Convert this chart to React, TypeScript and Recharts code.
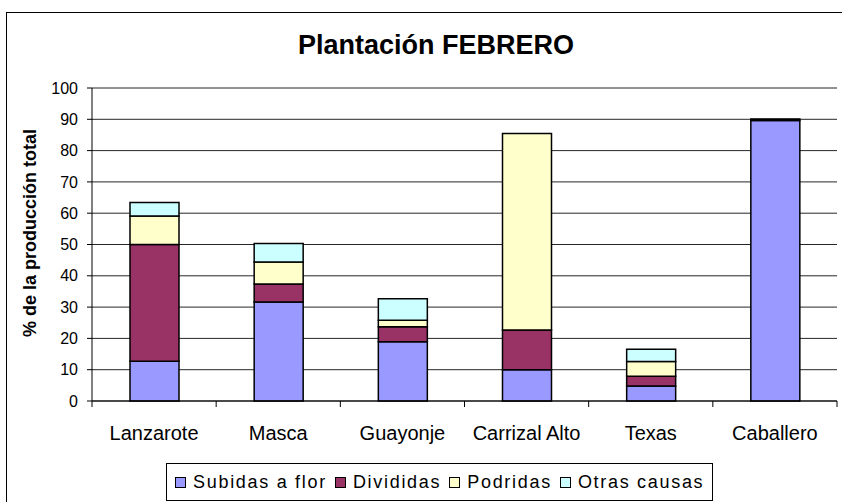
import { BarChart, Bar, XAxis, YAxis, CartesianGrid, Legend } from 'recharts';

const CATEGORIES = ['Lanzarote', 'Masca', 'Guayonje', 'Carrizal Alto', 'Texas', 'Caballero'];
const SUBIDAS = [12.7, 31.6, 18.9, 10.0, 4.8, 89.6];
const DIVIDIDAS = [37.3, 5.8, 4.8, 12.7, 3.1, 0.5];
const PODRIDAS = [9.1, 7.0, 2.1, 62.8, 4.7, 0];
const OTRAS = [4.3, 5.9, 6.9, 0, 3.9, 0];
const Y_TICKS = [0, 10, 20, 30, 40, 50, 60, 70, 80, 90, 100];

const SERIES = [
  { key: 'subidas', name: 'Subidas a flor', color: '#9999FF' },
  { key: 'divididas', name: 'Divididas', color: '#993366' },
  { key: 'podridas', name: 'Podridas', color: '#FFFFCC' },
  { key: 'otras', name: 'Otras causas', color: '#CCFFFF' },
];

const chartData = CATEGORIES.map((name, i) => ({
  name,
  subidas: SUBIDAS[i],
  divididas: DIVIDIDAS[i],
  podridas: PODRIDAS[i],
  otras: OTRAS[i],
}));

const FONT = '"Liberation Sans", Arial, sans-serif';
const PLOT_W = 745;

function CategoryTick(props: any) {
  const { x, y, payload, index } = props;
  const half = PLOT_W / CATEGORIES.length / 2;
  const axisY = y - 8;
  return (
    <g>
      <line x1={x - half} x2={x - half} y1={axisY} y2={axisY + 6} stroke="#000" />
      {index === CATEGORIES.length - 1 && (
        <line x1={x + half} x2={x + half} y1={axisY} y2={axisY + 6} stroke="#000" />
      )}
      <text x={x} y={y} dy={31} textAnchor="middle" fill="#000" fontSize={20} fontFamily={FONT}>
        {payload.value}
      </text>
    </g>
  );
}

// legend drawn from SERIES so the order stays as in the original
function LegendBox() {
  return (
    <div
      style={{
        border: '1px solid #000',
        height: 38,
        display: 'flex',
        alignItems: 'center',
        paddingLeft: 8,
        gap: 8,
        fontFamily: FONT,
        fontSize: 18,
        letterSpacing: 1.7,
        color: '#000',
        boxSizing: 'border-box',
      }}
    >
      {SERIES.map((s) => (
        <div key={s.key} style={{ display: 'flex', alignItems: 'center', gap: 7 }}>
          <span
            style={{
              display: 'inline-block',
              width: 9,
              height: 9,
              background: s.color,
              border: '1px solid #000',
            }}
          />
          <span>{s.name}</span>
        </div>
      ))}
    </div>
  );
}

export default function App() {
  return (
    <div
      style={{
        position: 'absolute',
        left: 0,
        top: 0,
        width: 842,
        height: 502,
        overflow: 'hidden',
        background: '#fff',
        fontFamily: FONT,
      }}
    >
      <div
        style={{
          position: 'absolute',
          left: 6,
          top: 12,
          width: 900,
          height: 600,
          border: '1px solid #000',
        }}
      />
      <div
        style={{
          position: 'absolute',
          left: 0,
          width: 872,
          top: 30,
          textAlign: 'center',
          fontSize: 27,
          fontWeight: 'bold',
        }}
      >
        Plantación FEBRERO
      </div>
      <div
        style={{
          position: 'absolute',
          left: 30,
          top: 233,
          transform: 'translate(-50%, -50%) rotate(-90deg)',
          whiteSpace: 'nowrap',
          fontSize: 18,
          fontWeight: 'bold',
        }}
      >
        % de la producción total
      </div>
      <div style={{ position: 'absolute', left: 0, top: 0 }}>
        <BarChart
          width={842}
          height={502}
          data={chartData}
          margin={{ top: 88, right: 5, left: 40, bottom: 61 }}
          barSize={49}
        >
          <CartesianGrid vertical={false} stroke="#000" strokeOpacity={0.85} />
          <XAxis
            dataKey="name"
            axisLine={{ stroke: '#000' }}
            tickLine={false}
            tickSize={6}
            tickMargin={2}
            height={40}
            interval={0}
            tick={<CategoryTick />}
          />
          <YAxis
            domain={[0, 100]}
            ticks={Y_TICKS}
            width={52}
            axisLine={{ stroke: '#000' }}
            tickLine={{ stroke: '#000' }}
            tickSize={5}
            tickMargin={9}
            tick={{ fill: '#000', fontSize: 16, fontFamily: FONT }}
          />
          <YAxis
            yAxisId="right"
            orientation="right"
            domain={[0, 100]}
            width={0}
            tick={false}
            tickLine={false}
            axisLine={{ stroke: '#808080' }}
          />
          <Legend
            layout="horizontal"
            verticalAlign="middle"
            align="center"
            content={<LegendBox />}
            wrapperStyle={{ left: 166, top: 463, width: 547 }}
          />
          {SERIES.map((s) => (
            <Bar
              key={s.key}
              dataKey={s.key}
              name={s.name}
              stackId="a"
              fill={s.color}
              stroke="#000"
              strokeWidth={1.5}
              isAnimationActive={false}
            />
          ))}
        </BarChart>
      </div>
    </div>
  );
}
